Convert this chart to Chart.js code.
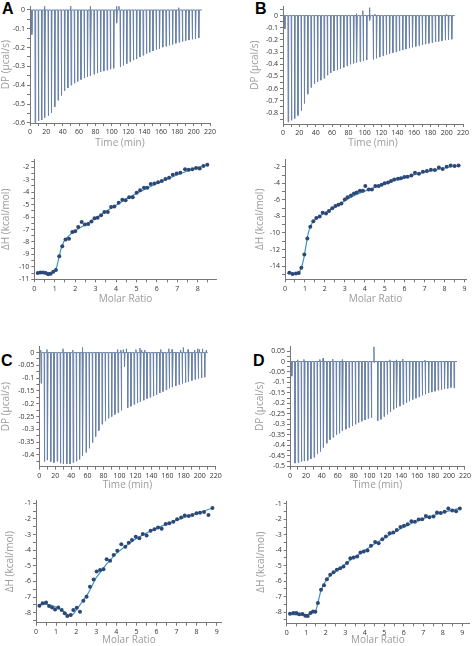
<!DOCTYPE html>
<html>
<head>
<meta charset="utf-8">
<script src="https://cdn.jsdelivr.net/npm/chart.js@4.4.1/dist/chart.umd.min.js"></script>
<style>
body{margin:0;background:#fff;width:473px;height:646px;position:relative;overflow:hidden}
canvas{position:absolute}
.lbl{position:absolute;font:bold 16px "Liberation Sans",Arial,sans-serif;line-height:16px;color:#000}
</style>
</head>
<body>
<div class="lbl" style="left:2px;top:1px">A</div>
<div class="lbl" style="left:255px;top:1px">B</div>
<div class="lbl" style="left:1px;top:353px">C</div>
<div class="lbl" style="left:253px;top:353px">D</div>
<canvas id="dpA" width="236" height="152" style="left:0;top:0"></canvas>
<canvas id="dpB" width="237" height="152" style="left:236px;top:0"></canvas>
<canvas id="dhA" width="236" height="160" style="left:0;top:150px"></canvas>
<canvas id="dhB" width="237" height="160" style="left:236px;top:150px"></canvas>
<canvas id="dpC" width="236" height="172" style="left:0;top:320px"></canvas>
<canvas id="dpD" width="237" height="172" style="left:236px;top:320px"></canvas>
<canvas id="dhC" width="236" height="154" style="left:0;top:492px"></canvas>
<canvas id="dhD" width="237" height="154" style="left:236px;top:492px"></canvas>
<script>
// thời điểm tiêm (phút), chung cho cả 4 thí nghiệm
const injTimes = [2,6,10,14,18,22,26,30,34,38,42,46,50,54,58,62,66,70,74,78,82,86,90,94,98,102,
  106,110,114,118,122,126,130,134,138,142,146,150,154,158,162,166,170,174,178,182,186,190,194,198,202,206];

// đỉnh DP (µcal/s) của từng lần tiêm
const dpA = [-0.13,-0.60,-0.59,-0.585,-0.572,-0.562,-0.545,-0.515,-0.48,-0.455,-0.43,-0.415,-0.40,-0.39,-0.38,-0.37,-0.362,-0.355,-0.35,-0.342,-0.336,-0.33,-0.325,-0.32,-0.315,-0.31,
  -0.07,-0.303,-0.294,-0.285,-0.276,-0.267,-0.26,-0.25,-0.241,-0.232,-0.225,-0.218,-0.211,-0.205,-0.198,-0.193,-0.188,-0.183,-0.177,-0.172,-0.168,-0.163,-0.16,-0.156,-0.152,-0.149];
const dpB = [-0.11,-0.873,-0.86,-0.845,-0.82,-0.78,-0.72,-0.645,-0.59,-0.56,-0.545,-0.53,-0.515,-0.49,-0.47,-0.455,-0.445,-0.435,-0.425,-0.412,-0.40,-0.392,-0.385,-0.378,-0.372,-0.365,
  -0.04,-0.36,-0.35,-0.34,-0.33,-0.32,-0.312,-0.305,-0.298,-0.29,-0.282,-0.275,-0.268,-0.26,-0.253,-0.247,-0.24,-0.234,-0.228,-0.222,-0.217,-0.212,-0.207,-0.202,-0.198,-0.194];
const dpC = [-0.12,-0.426,-0.42,-0.426,-0.43,-0.425,-0.433,-0.435,-0.435,-0.435,-0.43,-0.425,-0.417,-0.404,-0.39,-0.374,-0.352,-0.328,-0.305,-0.28,-0.268,-0.257,-0.25,-0.242,-0.235,-0.226,
  -0.055,-0.216,-0.21,-0.203,-0.197,-0.191,-0.186,-0.18,-0.175,-0.17,-0.164,-0.158,-0.152,-0.146,-0.14,-0.135,-0.13,-0.125,-0.121,-0.117,-0.113,-0.109,-0.105,-0.102,-0.099,-0.096];
const dpD = [-0.07,-0.485,-0.482,-0.478,-0.475,-0.472,-0.465,-0.457,-0.44,-0.43,-0.41,-0.39,-0.373,-0.362,-0.35,-0.342,-0.33,-0.323,-0.315,-0.307,-0.30,-0.291,-0.285,-0.279,-0.272,-0.268,
  -0.005,-0.283,-0.276,-0.263,-0.252,-0.241,-0.228,-0.22,-0.213,-0.205,-0.197,-0.189,-0.181,-0.175,-0.169,-0.162,-0.156,-0.15,-0.146,-0.142,-0.137,-0.134,-0.131,-0.128,-0.124,-0.126];

// các gai dương nhỏ trên đường nền [phút, µcal/s]
const bumpsA = [[17.4,0.022],[49.4,0.025],[73.4,0.025],[105.4,0.02],[108.5,0.025],[181.4,0.012]];
const bumpsB = [[89.4,0.015],[97.4,0.04],[105.4,0.065],[112,0.012],[199.4,0.01]];
const bumpsC = [[1.4,0.01],[9.4,0.012],[29.4,0.015],[41.4,0.01],[53.4,0.02],[97.4,0.012],[101.4,0.01],[104.5,0.012],
  [108.4,0.015],[120.4,0.012],[125.4,0.018],[127.5,0.01],[131.4,0.01],[151.4,0.012],[161.4,0.015],[165.4,0.012],
  [176,0.01],[179.4,0.02],[185.4,0.012],[193.4,0.01],[197.4,0.015],[199.4,0.012],[203.4,0.015],[208,0.01]];
const bumpsD = [[9.4,0.008],[17.4,0.01],[37.4,0.01],[41.4,0.015],[53.4,0.012],[65.4,0.01],[105.4,0.07],[125.4,0.008],
  [133.4,0.008],[141.4,0.012],[169.4,0.006]];

// đường đẳng nhiệt: tỉ lệ mol và ΔH (kcal/mol)
const mrA = [0.17,0.30,0.43,0.56,0.68,0.80,0.93,1.06,1.22,1.37,1.53,1.70,1.86,2.00,2.15,2.32,2.48,2.64,2.80,2.95,3.10,3.27,3.43,3.60,3.76,3.92,
  4.13,4.31,4.47,4.64,4.82,5.01,5.18,5.37,5.53,5.70,5.88,6.06,6.24,6.42,6.60,6.78,6.97,7.15,7.38,7.56,7.74,7.92,8.10,8.28,8.47];
const dhA = [-10.5,-10.45,-10.45,-10.5,-10.6,-10.55,-10.4,-10.25,-9.15,-8.35,-7.8,-7.75,-7.2,-7.15,-6.8,-6.4,-6.6,-6.55,-6.35,-6.1,-6.05,-5.85,-5.6,-5.6,-5.2,-5.15,
  -4.85,-4.6,-4.65,-4.4,-4.4,-4.05,-3.85,-3.65,-3.65,-3.35,-3.3,-3.2,-3.1,-2.95,-2.85,-2.6,-2.5,-2.45,-2.15,-2.2,-2.15,-2.05,-2.1,-1.9,-1.8];
const fitXA = [0.1,0.9,1.0,1.1,1.2,1.3,1.45,1.6,1.8,2.0,2.5,3.0,3.5,4.0,4.5,5.0,5.5,6.0,6.5,7.0,7.5,8.0,8.5];
const fitYA = [-10.55,-10.45,-10.35,-10.0,-9.3,-8.6,-7.95,-7.65,-7.35,-7.1,-6.6,-6.1,-5.55,-5.05,-4.55,-4.1,-3.7,-3.3,-2.95,-2.6,-2.3,-2.0,-1.8];

const mrB = [0.22,0.38,0.55,0.69,0.82,0.97,1.12,1.27,1.42,1.57,1.74,1.89,2.06,2.21,2.37,2.53,2.68,2.83,3.00,3.14,3.31,3.46,3.60,3.76,3.91,4.03,
  4.20,4.36,4.53,4.70,4.85,5.00,5.17,5.32,5.48,5.67,5.82,5.99,6.15,6.34,6.52,6.72,6.92,7.12,7.32,7.52,7.72,7.91,8.11,8.31,8.51,8.71];
const dhB = [-14.8,-14.96,-14.9,-14.85,-14.2,-12.6,-10.66,-9.25,-8.6,-8.2,-8.0,-7.56,-7.64,-7.36,-7.0,-6.75,-6.6,-6.43,-5.95,-5.7,-5.46,-5.22,-5.1,-4.9,-4.9,-4.34,
  -4.75,-4.75,-4.34,-4.34,-4.17,-4.0,-3.9,-3.73,-3.53,-3.45,-3.4,-3.25,-3.2,-3.05,-2.72,-2.85,-2.6,-2.52,-2.36,-2.4,-2.08,-2.28,-2.0,-1.84,-1.92,-1.84];
const fitXB = [0.1,0.6,0.75,0.85,0.95,1.05,1.15,1.25,1.4,1.6,1.8,2.0,2.5,3.0,3.5,4.0,4.5,5.0,5.5,6.0,6.5,7.0,7.5,8.0,8.7];
const fitYB = [-14.9,-14.85,-14.6,-14.0,-13.0,-11.6,-10.2,-9.3,-8.65,-8.2,-7.85,-7.55,-6.85,-6.1,-5.45,-4.95,-4.5,-4.05,-3.65,-3.3,-2.95,-2.65,-2.4,-2.15,-1.85];

const mrC = [0.17,0.33,0.50,0.65,0.80,0.95,1.11,1.28,1.43,1.56,1.73,1.86,2.03,2.19,2.36,2.52,2.69,2.87,3.02,3.19,3.36,3.52,3.69,3.87,4.05,
  4.25,4.45,4.62,4.78,4.97,5.15,5.32,5.51,5.71,5.90,6.08,6.26,6.46,6.64,6.84,7.03,7.23,7.41,7.61,7.79,7.99,8.17,8.37,8.59,8.79];
const dhC = [-7.55,-7.4,-7.35,-7.57,-7.66,-7.79,-7.66,-7.83,-8.04,-8.21,-8.15,-7.83,-7.68,-7.94,-7.23,-6.98,-6.34,-5.87,-5.37,-5.27,-5.22,-4.58,-4.67,-4.3,-4.03,
  -3.62,-3.77,-3.52,-3.35,-3.13,-3.24,-2.96,-3.05,-2.75,-2.66,-2.54,-2.62,-2.32,-2.28,-2.17,-2.02,-1.9,-1.77,-1.81,-1.75,-1.64,-1.6,-1.55,-1.75,-1.3];
const fitXC = [0.1,0.5,0.8,1.1,1.4,1.65,1.85,2.05,2.3,2.6,3.0,3.5,4.0,4.5,5.0,5.5,6.0,6.5,7.0,7.5,8.0,8.8];
const fitYC = [-7.5,-7.45,-7.55,-7.7,-7.95,-8.2,-8.1,-7.75,-7.3,-6.75,-5.75,-4.9,-4.2,-3.7,-3.25,-2.9,-2.6,-2.33,-2.08,-1.85,-1.65,-1.3];

const mrD = [0.17,0.34,0.49,0.64,0.81,0.95,1.08,1.22,1.35,1.47,1.60,1.76,1.91,2.06,2.23,2.40,2.57,2.74,2.91,3.09,3.26,3.43,3.61,3.78,3.95,
  4.14,4.32,4.53,4.71,4.90,5.08,5.27,5.46,5.64,5.83,6.01,6.20,6.39,6.57,6.76,6.94,7.13,7.31,7.52,7.70,7.89,8.09,8.28,8.48,8.68,8.87];
const dhD = [-8.11,-8.07,-8.07,-8.15,-8.13,-8.24,-8.26,-8.07,-7.96,-7.98,-7.42,-6.56,-6.26,-5.87,-5.59,-5.42,-5.27,-5.16,-5.05,-4.83,-4.51,-4.47,-4.4,-4.14,-4.08,
  -4.02,-3.71,-3.46,-3.54,-3.28,-3.11,-2.9,-2.85,-2.68,-2.49,-2.42,-2.31,-2.12,-2.16,-2.01,-1.99,-1.78,-1.86,-1.82,-1.56,-1.58,-1.5,-1.3,-1.43,-1.47,-1.3];
const fitXD = [0.1,0.8,1.1,1.4,1.5,1.6,1.75,1.9,2.1,2.4,2.8,3.2,3.6,4.0,4.5,5.0,5.5,6.0,6.5,7.0,7.5,8.0,8.8];
const fitYD = [-8.15,-8.2,-8.15,-8.0,-7.9,-7.4,-6.6,-6.2,-5.8,-5.45,-5.1,-4.7,-4.35,-4.0,-3.6,-3.2,-2.85,-2.5,-2.2,-1.95,-1.75,-1.55,-1.3];

Chart.defaults.font.family = "'Open Sans', 'Noto Sans', sans-serif";

// dựng đường nhiệt đồ từ thời điểm tiêm + biên độ
function trace(amps, bumps) {
  const ev = injTimes.map((t, i) => ({t: t, v: amps[i], w: 0.9}))
    .concat(bumps.map(b => ({t: b[0], v: b[1], w: 0.4})));
  ev.sort((a, b) => a.t - b.t);
  const pts = [{x: 0, y: 0}];
  ev.forEach(e => {
    pts.push({x: e.t, y: 0}, {x: e.t + e.w * 0.3, y: e.v}, {x: e.t + e.w, y: 0});
  });
  pts.push({x: injTimes[injTimes.length - 1] + 4, y: 0});
  return pts;
}
function xy(xs, ys) { return xs.map((x, i) => ({x: x, y: ys[i]})); }

function tickLabel(step) {
  return v => {
    const k = v / step;
    if (Math.abs(k - Math.round(k)) > 1e-6) return '';
    const r = Math.round(v * 1000) / 1000;
    return r === 0 ? '0' : String(r);
  };
}

function axis(o) {
  const left = o.pos === 'left';
  return {
    type: 'linear', position: o.pos, min: o.min, max: o.max,
    afterFit: s => { if (left) s.width = o.size; else s.height = o.size; },
    ticks: {stepSize: o.step, includeBounds: false, autoSkip: false, maxRotation: 0, maxTicksLimit: 500,
      padding: 2, color: '#333', font: {size: 7}, callback: tickLabel(o.label)},
    grid: {drawOnChartArea: false, tickLength: 3, color: '#777'},
    border: {color: '#777'},
    title: {display: true, text: o.title, color: '#9b9b9b', font: {size: 10},
      padding: left ? {top: o.tpad, bottom: 0} : {top: 0, bottom: o.tpad}}
  };
}

function draw(id, datasets, pad, xo, yo) {
  xo.pos = 'bottom'; yo.pos = 'left';
  new Chart(document.getElementById(id), {
    type: 'line',
    data: {datasets: datasets},
    options: {
      responsive: false, animation: false, events: [],
      layout: {padding: pad},
      plugins: {legend: {display: false}, tooltip: {enabled: false}},
      scales: {x: axis(xo), y: axis(yo)}
    }
  });
}

function dpSet(amps, bumps) {
  return [{data: trace(amps, bumps), borderColor: '#6a82a8', borderWidth: 1, pointRadius: 0, tension: 0, fill: false}];
}
function dhSet(mr, dh, fx, fy) {
  return [
    {data: xy(mr, dh), showLine: false, pointRadius: 2, pointBackgroundColor: '#2d4877', pointBorderWidth: 0, order: 0},
    {data: xy(fx, fy), borderColor: '#3c97bf', borderWidth: 1.2, pointRadius: 0, tension: 0, fill: false, order: 1}
  ];
}

const timeAx = (size, tpad) => ({min: 0, max: 220, step: 10, label: 20, size: size, title: 'Time (min)', tpad: tpad});
const mrAx = (max, size, tpad) => ({min: 0, max: max, step: 0.5, label: 1, size: size, title: 'Molar Ratio', tpad: tpad});

draw('dpA', dpSet(dpA, bumpsA), {left: 0, right: 26, top: 6, bottom: 0}, timeAx(29, 3),
  {min: -0.601, max: 0.02, step: 0.05, label: 0.1, size: 30, title: 'DP (µcal/s)', tpad: 0});
draw('dpB', dpSet(dpB, bumpsB), {left: 0, right: 10, top: 3, bottom: 0}, timeAx(28, 3),
  {min: -0.89, max: 0.077, step: 0.05, label: 0.1, size: 47, title: 'DP (µcal/s)', tpad: 13});
draw('dhA', dhSet(mrA, dhA, fitXA, fitYA), {left: 0, right: 19.3, top: 9.3, bottom: 0}, mrAx(8.93, 30.7, 5),
  {min: -11, max: -1.36, step: 0.5, label: 1, size: 34.3, title: 'ΔH (kcal/mol)', tpad: 0});
draw('dhB', dhSet(mrB, dhB, fitXB, fitYB), {left: 0, right: 7, top: 9.3, bottom: 0}, mrAx(9.08, 30.7, 5),
  {min: -15.6, max: -1.1, step: 1, label: 2, size: 49, title: 'ΔH (kcal/mol)', tpad: 18});
draw('dpC', dpSet(dpC, bumpsC), {left: 0, right: 20.3, top: 26.7, bottom: 0}, timeAx(25.3, 1),
  {min: -0.446, max: 0.023, step: 0.025, label: 0.05, size: 39.3, title: 'DP (µcal/s)', tpad: 0});
draw('dpD', dpSet(dpD, bumpsD), {left: 0, right: 7.7, top: 26, bottom: 0}, timeAx(25.3, 1),
  {min: -0.502, max: 0.074, step: 0.025, label: 0.05, size: 54, title: 'DP (µcal/s)', tpad: 18});
draw('dhC', dhSet(mrC, dhC, fitXC, fitYC), {left: 0, right: 14.3, top: 8.7, bottom: 0}, mrAx(9.25, 23.3, 0),
  {min: -8.64, max: -0.83, step: 0.5, label: 1, size: 36, title: 'ΔH (kcal/mol)', tpad: 4});
draw('dhD', dhSet(mrD, dhD, fitXD, fitYD), {left: 0, right: 2, top: 9, bottom: 0}, mrAx(9.34, 22.7, 0),
  {min: -8.73, max: -0.81, step: 0.5, label: 1, size: 50.7, title: 'ΔH (kcal/mol)', tpad: 19});
</script>
</body>
</html>
